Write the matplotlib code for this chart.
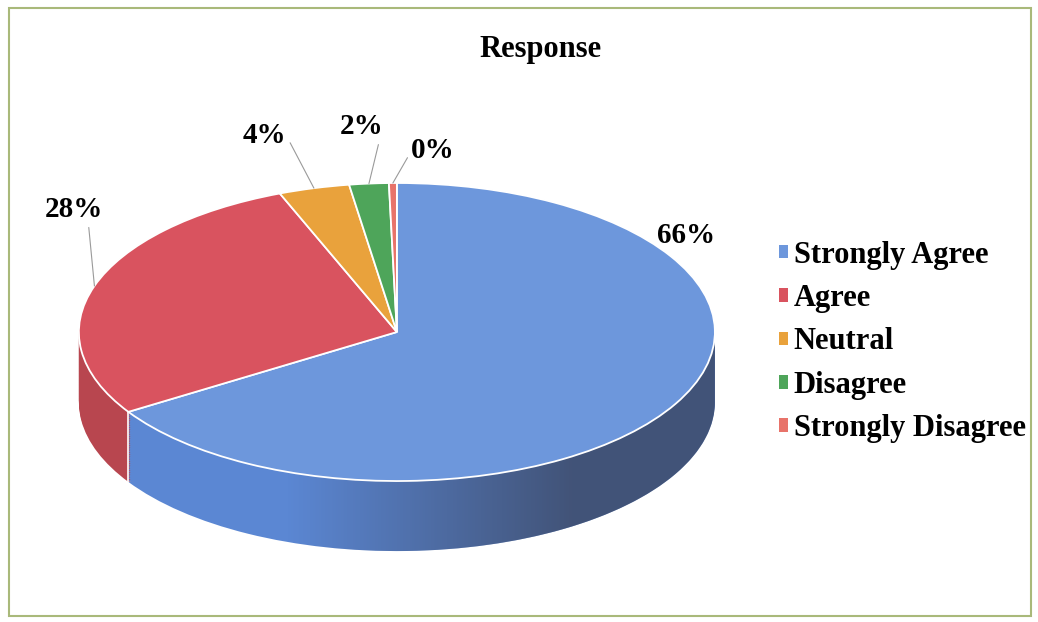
import numpy as np
import matplotlib
matplotlib.use("Agg")
import matplotlib.pyplot as plt
from matplotlib.patches import Polygon, Rectangle

# data
labels = ["Strongly Agree", "Agree", "Neutral", "Disagree", "Strongly Disagree"]
values = [165, 70, 9, 5, 1]
pct_text = ["66%", "28%", "4%", "2%", "0%"]

top_colors = ["#6d97dc", "#d9535f", "#e9a23c", "#4ea55a", "#e8736a"]
side_colors = ["#5b87d3", "#b8464f", "#c98a30", "#3f8a4b", "#c85f58"]

fig = plt.figure(figsize=(10.38, 6.22), dpi=100)
ax = fig.add_axes([0, 0, 1, 1])

depth = 0.47
font = dict(family="Liberation Serif", weight="bold")

# side of the 3d pie: stacked pies moved down
for d in np.linspace(depth, 0.0, 40):
    ax.pie(values, colors=side_colors, startangle=90, counterclock=False,
           center=(0, -d), radius=1, wedgeprops=dict(linewidth=0))

# darker shading to the right on the side
theta = np.linspace(np.pi, 2 * np.pi, 200)
rim = np.column_stack([np.cos(theta), np.sin(theta)])
side_poly = Polygon(np.vstack([rim, rim[::-1] - [0, depth]]), closed=True,
                    transform=ax.transData)
xs = np.linspace(-1, 1, 256)
alpha = np.clip((xs + 0.35) / 0.9, 0, 1) * 0.72
shade = np.zeros((1, 256, 4))
shade[..., 0] = 0.22
shade[..., 1] = 0.25
shade[..., 2] = 0.33
shade[0, :, 3] = alpha
im = ax.imshow(shade, extent=(-1, 1, -1 - depth, 0), aspect="auto", zorder=2)
im.set_clip_path(side_poly)

# white seam where the first slice ends on the front side
end_ang = np.deg2rad(90 - 360 * values[0] / sum(values))
ax.plot([np.cos(end_ang)] * 2, [np.sin(end_ang), np.sin(end_ang) - depth],
        color="white", lw=1.2, zorder=3)

# top face
wedges, _ = ax.pie(values, colors=top_colors, startangle=90, counterclock=False,
                   radius=1, wedgeprops=dict(edgecolor="white", linewidth=1.3))
for w in wedges:
    w.set_zorder(4)

ax.set_aspect("auto")
ax.set_xlim(-1.248, 2.016)
ax.set_ylim(-1.946, 2.228)
ax.axis("off")

# percentage labels with leader lines
label_pos = [(0.91, 0.65), (-1.016, 0.82), (-0.415, 1.322), (-0.110, 1.376), (0.113, 1.221)]
line_from = [None, (0.75, 0.0), (1.05, 0.3), (0.9, 0.0), (-0.05, 0.3)]
total = sum(values)
start = 90.0
for i, v in enumerate(values):
    mid = np.deg2rad(start - 360 * v / total / 2)
    start -= 360 * v / total
    tip = (np.cos(mid), np.sin(mid))
    if line_from[i] is not None:
        ax.annotate(pct_text[i], xy=tip, xytext=label_pos[i], ha="center", va="center",
                    fontsize=21, zorder=6, **font,
                    arrowprops=dict(arrowstyle="-", color="#9a9a9a", lw=0.8,
                                    relpos=line_from[i], shrinkA=1, shrinkB=0))
    else:
        ax.text(label_pos[i][0], label_pos[i][1], pct_text[i], ha="center", va="center",
                fontsize=21, zorder=6, **font)

fig.text(540 / 1038, 1 - 49 / 622, "Response", ha="center", va="center",
         fontsize=22, **font)

leg = fig.legend(wedges, labels, loc="center left",
                 bbox_to_anchor=(751 / 1038, 1 - 342 / 622),
                 frameon=False, handlelength=0.3, handleheight=0.3,
                 handletextpad=0.2, labelspacing=0.47,
                 prop=dict(family="Liberation Serif", weight="bold", size=22))
for h in leg.legend_handles:
    h.set_edgecolor("none")

fig.patches.append(Rectangle((9 / 1038, 6 / 622), 1022 / 1038, 608 / 622,
                             transform=fig.transFigure, fill=False,
                             edgecolor="#a9b97a", linewidth=1.5))

fig.savefig("out.png", dpi=100)
